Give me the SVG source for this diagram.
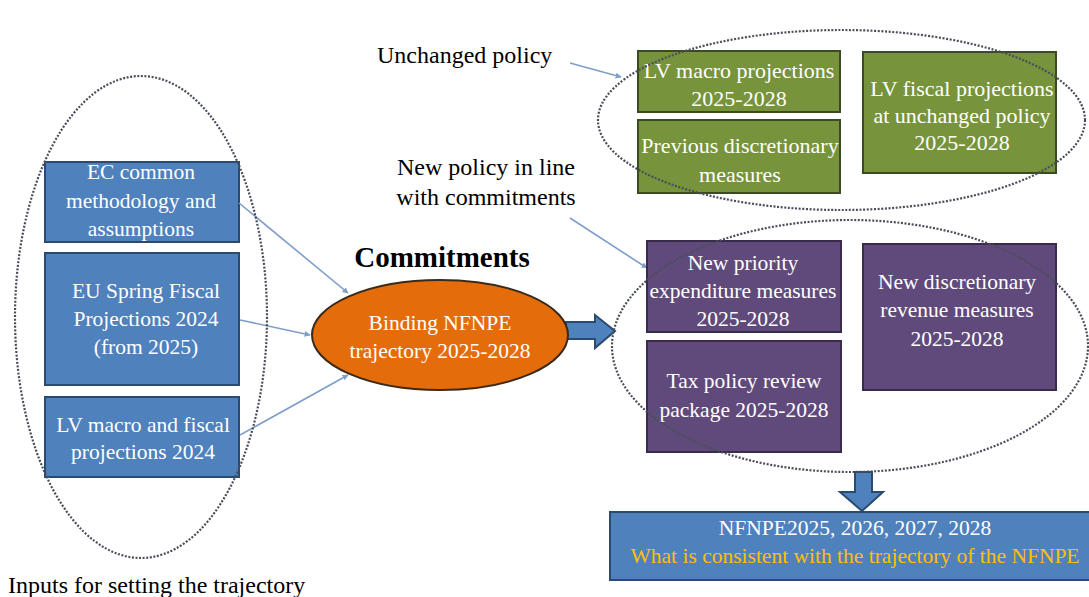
<svg xmlns="http://www.w3.org/2000/svg" width="1089" height="597" viewBox="0 0 1089 597">
  <style>
    text { font-family: "Liberation Serif", "Times New Roman", serif; }
    .box-blue { fill: #4F81BD; stroke: #2B4A6F; stroke-width: 2; }
    .box-green { fill: #77933C; stroke: #3B4A22; stroke-width: 2; }
    .box-purple { fill: #604A7B; stroke: #3A2B4D; stroke-width: 2; }
    .oval { fill: #E46C0A; stroke: #3A2A1A; stroke-width: 2; }
    .group { fill: none; stroke: #4A4E5A; stroke-width: 2.2; stroke-dasharray: 2 1.6; }
    .t { fill: #FFFFFF; font-size: 21.5px; text-anchor: middle; }
    .tg { font-size: 22px; }
    .lbl { fill: #000000; font-size: 24px; }
    .thin { fill: none; stroke: #7E9EC9; stroke-width: 1.6; marker-end: url(#head); }
    .block { fill: #4F81BD; stroke: #2B4A6F; stroke-width: 2; }
  </style>
  <defs>
    <marker id="head" viewBox="0 0 10 10" refX="9" refY="5" markerWidth="6" markerHeight="6" orient="auto" markerUnits="userSpaceOnUse">
      <path d="M0,0 L10,5 L0,10 z" fill="#7E9EC9"/>
    </marker>
  </defs>

  <rect width="1089" height="597" fill="#FFFFFF"/>

  <!-- input boxes -->
  <g id="ec-methodology">
    <rect class="box-blue" x="45" y="162" width="194" height="80"/>
    <text class="t" x="141" y="179">EC common</text>
    <text class="t" x="141" y="208">methodology and</text>
    <text class="t" x="141" y="236">assumptions</text>
  </g>
  <g id="eu-spring">
    <rect class="box-blue" x="45" y="253" width="194" height="132"/>
    <text class="t" x="146" y="298">EU Spring Fiscal</text>
    <text class="t" x="146" y="326">Projections 2024</text>
    <text class="t" x="146" y="354">(from 2025)</text>
  </g>
  <g id="lv-projections-2024">
    <rect class="box-blue" x="45" y="397" width="194" height="80"/>
    <text class="t" x="143" y="432">LV macro and fiscal</text>
    <text class="t" x="143" y="459">projections 2024</text>
  </g>

  <!-- commitments -->
  <g id="commitments">
    <text x="442" y="267" font-size="29" font-weight="bold" text-anchor="middle" fill="#000000">Commitments</text>
  </g>

  <!-- connectors -->
  <g id="connectors">
    <line class="thin" x1="239" y1="203" x2="348" y2="293"/>
    <line class="thin" x1="240" y1="320" x2="310" y2="335"/>
    <line class="thin" x1="240" y1="435" x2="348" y2="375"/>
    <line class="thin" x1="570" y1="63" x2="621" y2="77"/>
    <line class="thin" x1="570" y1="218" x2="647" y2="268"/>
    <polygon class="block" points="566,322 595,322 595,315 615,331 595,348 595,339 566,339"/>
    <polygon class="block" points="855,472 872,472 872,492 883,492 862,511 840,492 855,492"/>
  </g>

  <g id="binding-trajectory">
    <ellipse class="oval" cx="440" cy="335" rx="128" ry="55"/>
    <text class="t" x="440" y="330">Binding NFNPE</text>
    <text class="t" x="440" y="358">trajectory 2025-2028</text>
  </g>

  <!-- unchanged policy boxes -->
  <g id="lv-macro-projections">
    <rect class="box-green" x="638" y="51" width="202" height="61"/>
    <text class="t tg" x="739" y="78">LV macro projections</text>
    <text class="t tg" x="739" y="106">2025-2028</text>
  </g>
  <g id="previous-measures">
    <rect class="box-green" x="638" y="120" width="202" height="73"/>
    <text class="t tg" x="740" y="153">Previous discretionary</text>
    <text class="t tg" x="740" y="182">measures</text>
  </g>
  <g id="lv-fiscal-projections">
    <rect class="box-green" x="863" y="52" width="193" height="121"/>
    <text class="t tg" x="962" y="96">LV fiscal projections</text>
    <text class="t tg" x="962" y="123">at unchanged policy</text>
    <text class="t tg" x="962" y="150">2025-2028</text>
  </g>

  <!-- new policy boxes -->
  <g id="priority-expenditure">
    <rect class="box-purple" x="647" y="241" width="194" height="91"/>
    <text class="t" x="743" y="270">New priority</text>
    <text class="t" x="743" y="298">expenditure measures</text>
    <text class="t" x="743" y="326">2025-2028</text>
  </g>
  <g id="tax-policy-review">
    <rect class="box-purple" x="647" y="341" width="194" height="111"/>
    <text class="t" x="744" y="388">Tax policy review</text>
    <text class="t" x="744" y="417">package 2025-2028</text>
  </g>
  <g id="revenue-measures">
    <rect class="box-purple" x="863" y="244" width="193" height="146"/>
    <text class="t" x="957" y="289">New discretionary</text>
    <text class="t" x="957" y="317">revenue measures</text>
    <text class="t" x="957" y="346">2025-2028</text>
  </g>

  <!-- result -->
  <g id="nfnpe-result">
    <rect class="box-blue" x="610" y="512" width="480" height="68"/>
    <text class="t" x="855" y="535">NFNPE2025, 2026, 2027, 2028</text>
    <text class="t" x="855" y="563" style="fill:#FFC000">What is consistent with the trajectory of the NFNPE</text>
  </g>

  <!-- dotted groupings -->
  <g id="groupings">
    <ellipse class="group" cx="141" cy="317" rx="126" ry="241"/>
    <ellipse class="group" cx="841.5" cy="120" rx="243.5" ry="90"/>
    <ellipse class="group" cx="850" cy="346" rx="238" ry="126"/>
  </g>

  <!-- labels -->
  <g id="labels">
    <text class="lbl" x="377" y="63">Unchanged policy</text>
    <text class="lbl" x="486" y="175" text-anchor="middle">New policy in line</text>
    <text class="lbl" x="486" y="205" text-anchor="middle">with commitments</text>
    <text class="lbl" x="8" y="593">Inputs for setting the trajectory</text>
  </g>
</svg>
